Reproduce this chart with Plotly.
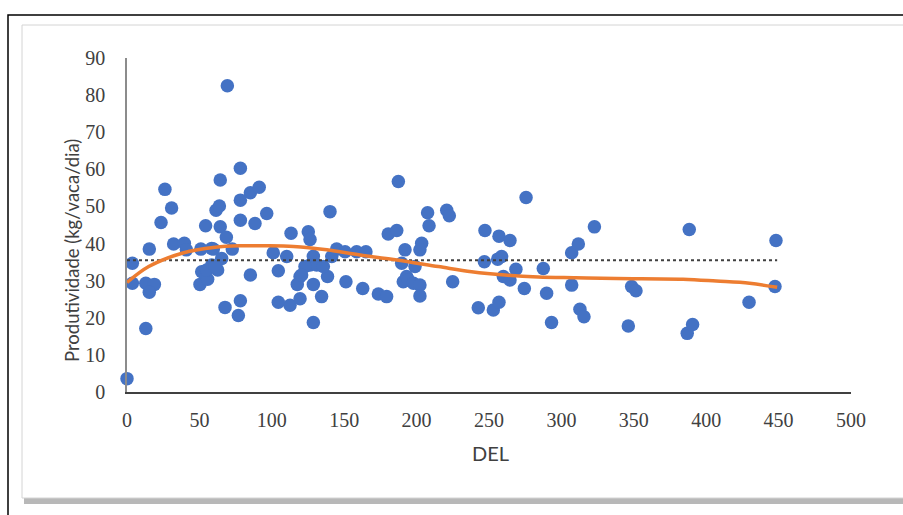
import plotly.graph_objects as go

# Scatter data: DEL (days in lactation) vs. productivity (kg/cow/day)
del_days = [0, 3.7, 3.7, 15.4, 13, 18.9, 15.4, 13, 26.2, 30.8, 23.5, 32.2, 39.6, 41, 54.3, 51, 59.6,
            51.6, 50.4, 55.7, 58.5, 62.6, 65.4, 64.4, 78.3, 61.5, 63.8, 64.4, 68.6, 72.7, 78.3, 78.3,
            85.2, 91.3, 88.4, 96.5, 85.2, 67.7, 78.3, 76.9, 55, 60.8, 58.5, 69.3,
            101, 104.5, 104.5, 112.6, 110.3, 113.3, 119.5, 117.6, 119.5, 125.2, 126.4, 128.7, 126.4,
            131, 128.7, 134.4, 128.7, 138.5, 140.2, 141.4, 144.8, 150.6, 151.2, 158.6, 165, 162.8,
            173.6, 179.3, 180.4, 186.3, 187.4, 189.7, 192, 190.8, 193.1, 122.9, 135.6, 120.6,
            198.9, 194.3, 197.8, 202.3, 202.3, 203.5, 202.3, 207.6, 208.6, 220.8, 222.6, 224.9,
            242.6, 253, 256.9, 247.2, 246.8, 256, 258.7, 256.9, 264.5, 259.9, 264.5, 268.6, 275.6,
            274.4, 287.5, 289.8, 293.2,
            307.1, 307.1, 311.7, 322.8, 312.8, 315.6, 346.2, 348.5, 351.5, 388.3, 386.9, 390.6,
            429.6, 448.2, 447.5]
produtividade = [3.6, 34.7, 29.3, 38.5, 29.3, 29, 26.9, 17.1, 54.6, 49.6, 45.7, 39.9, 40.1, 38.3, 44.8,
                 38.5, 38.5, 32.4, 29, 30.4, 34.2, 32.9, 36, 57.1, 60.3, 49, 50.1, 44.5, 41.7, 38.5,
                 51.7, 46.3, 53.7, 55.2, 45.4, 48.1, 31.5, 22.8, 24.6, 20.6, 32.9, 33.8, 38.7, 82.5,
                 37.5, 32.7, 24.2, 23.4, 36.5, 42.8, 31.1, 29, 25.1, 43.2, 41.1, 36.6, 34.2,
                 34.2, 29, 25.7, 18.7, 31.1, 48.6, 36.5, 38.5, 37.8, 29.7, 37.8, 37.8, 27.9,
                 26.4, 25.7, 42.6, 43.5, 56.7, 34.7, 38.3, 29.7, 31.1, 33.8, 33.8, 31.5,
                 33.8, 30.2, 29.3, 28.8, 25.9, 40.1, 38.3, 48.3, 44.8, 49, 47.5, 29.7,
                 22.7, 22.1, 24.2, 43.5, 35.1, 35.8, 36.5, 42, 40.8, 31.1, 30.2, 33.1, 52.4,
                 27.9, 33.3, 26.6, 18.7,
                 28.8, 37.5, 39.9, 44.5, 22.3, 20.3, 17.8, 28.4, 27.3, 43.8, 15.8, 18.2,
                 24.2, 40.8, 28.4]

# Polynomial trend line
trend_x = [0, 15, 38, 61, 79, 95, 115, 138, 161, 184, 215, 238, 261, 284, 310, 338, 384, 407, 430, 449]
trend_y = [29.5, 33.8, 37.4, 39.0, 39.4, 39.4, 39.2, 38.3, 36.9, 35.7, 33.8, 32.4, 31.5, 31.0, 30.8,
           30.6, 30.4, 29.9, 29.3, 28.2]

# Mean line
mean_x = [0, 449]
mean_y = [35.5, 35.5]

x_ticks = [0, 50, 100, 150, 200, 250, 300, 350, 400, 450, 500]
y_ticks = [0, 10, 20, 30, 40, 50, 60, 70, 80, 90]

fig = go.Figure()
fig.add_trace(go.Scatter(x=del_days, y=produtividade, mode="markers",
                         marker=dict(color="#4472C4", size=13.5, line=dict(width=0)),
                         cliponaxis=False, showlegend=False))
fig.add_trace(go.Scatter(x=mean_x, y=mean_y, mode="lines",
                         line=dict(color="#404040", width=2.2, dash="dot"), showlegend=False))
fig.add_trace(go.Scatter(x=trend_x, y=trend_y, mode="lines",
                         line=dict(color="#ED7D31", width=3.5, shape="spline", smoothing=1.0),
                         showlegend=False))

# frame geometry in paper coords (plot area: px 127..851, py 58..392)
def px(x):
    return (x - 127) / 724.0

def py(y):
    return (392 - y) / 334.0

shapes = [
    dict(type="rect", xref="paper", yref="paper", x0=px(8), x1=px(915), y0=py(525), y1=py(15),
         line=dict(color="#000000", width=1.5), fillcolor="white", layer="below"),
    dict(type="rect", xref="paper", yref="paper", x0=px(24), x1=px(915), y0=py(504), y1=py(28),
         line=dict(width=0), fillcolor="#b8b8b8", layer="below"),
    dict(type="rect", xref="paper", yref="paper", x0=px(22), x1=px(912), y0=py(498), y1=py(25),
         line=dict(color="#d4d4d4", width=1), fillcolor="white", layer="below"),
]

annotations = [
    dict(text="Produtividade (kg/vaca/dia)", xref="paper", yref="paper", x=px(72), y=py(251),
         xanchor="center", yanchor="middle", textangle=-90, showarrow=False,
         font=dict(family="Lato, Open Sans", size=18.5, color="#404040")),
    dict(text="DEL", xref="paper", yref="paper", x=px(490), y=py(453),
         xanchor="center", yanchor="middle", showarrow=False,
         font=dict(family="Lato, Open Sans", size=20, color="#404040")),
]

tick_font = dict(family="Liberation Serif, DejaVu Serif", size=20, color="#404040")

fig.update_layout(
    width=903, height=515,
    margin=dict(l=127, r=52, t=58, b=123),
    paper_bgcolor="white", plot_bgcolor="rgba(0,0,0,0)",
    shapes=shapes,
    annotations=annotations,
    xaxis=dict(range=[0, 500], tickvals=x_ticks, showgrid=False, zeroline=False,
               showline=True, linecolor="#404040", linewidth=2,
               ticks="", tickfont=tick_font, ticklabelstandoff=9),
    yaxis=dict(range=[0, 90], tickvals=y_ticks, showgrid=False, zeroline=False,
               showline=True, linecolor="#8c8c8c", linewidth=1.5,
               ticks="", tickfont=tick_font, ticklabelstandoff=16),
)

fig.write_html("out.html")
